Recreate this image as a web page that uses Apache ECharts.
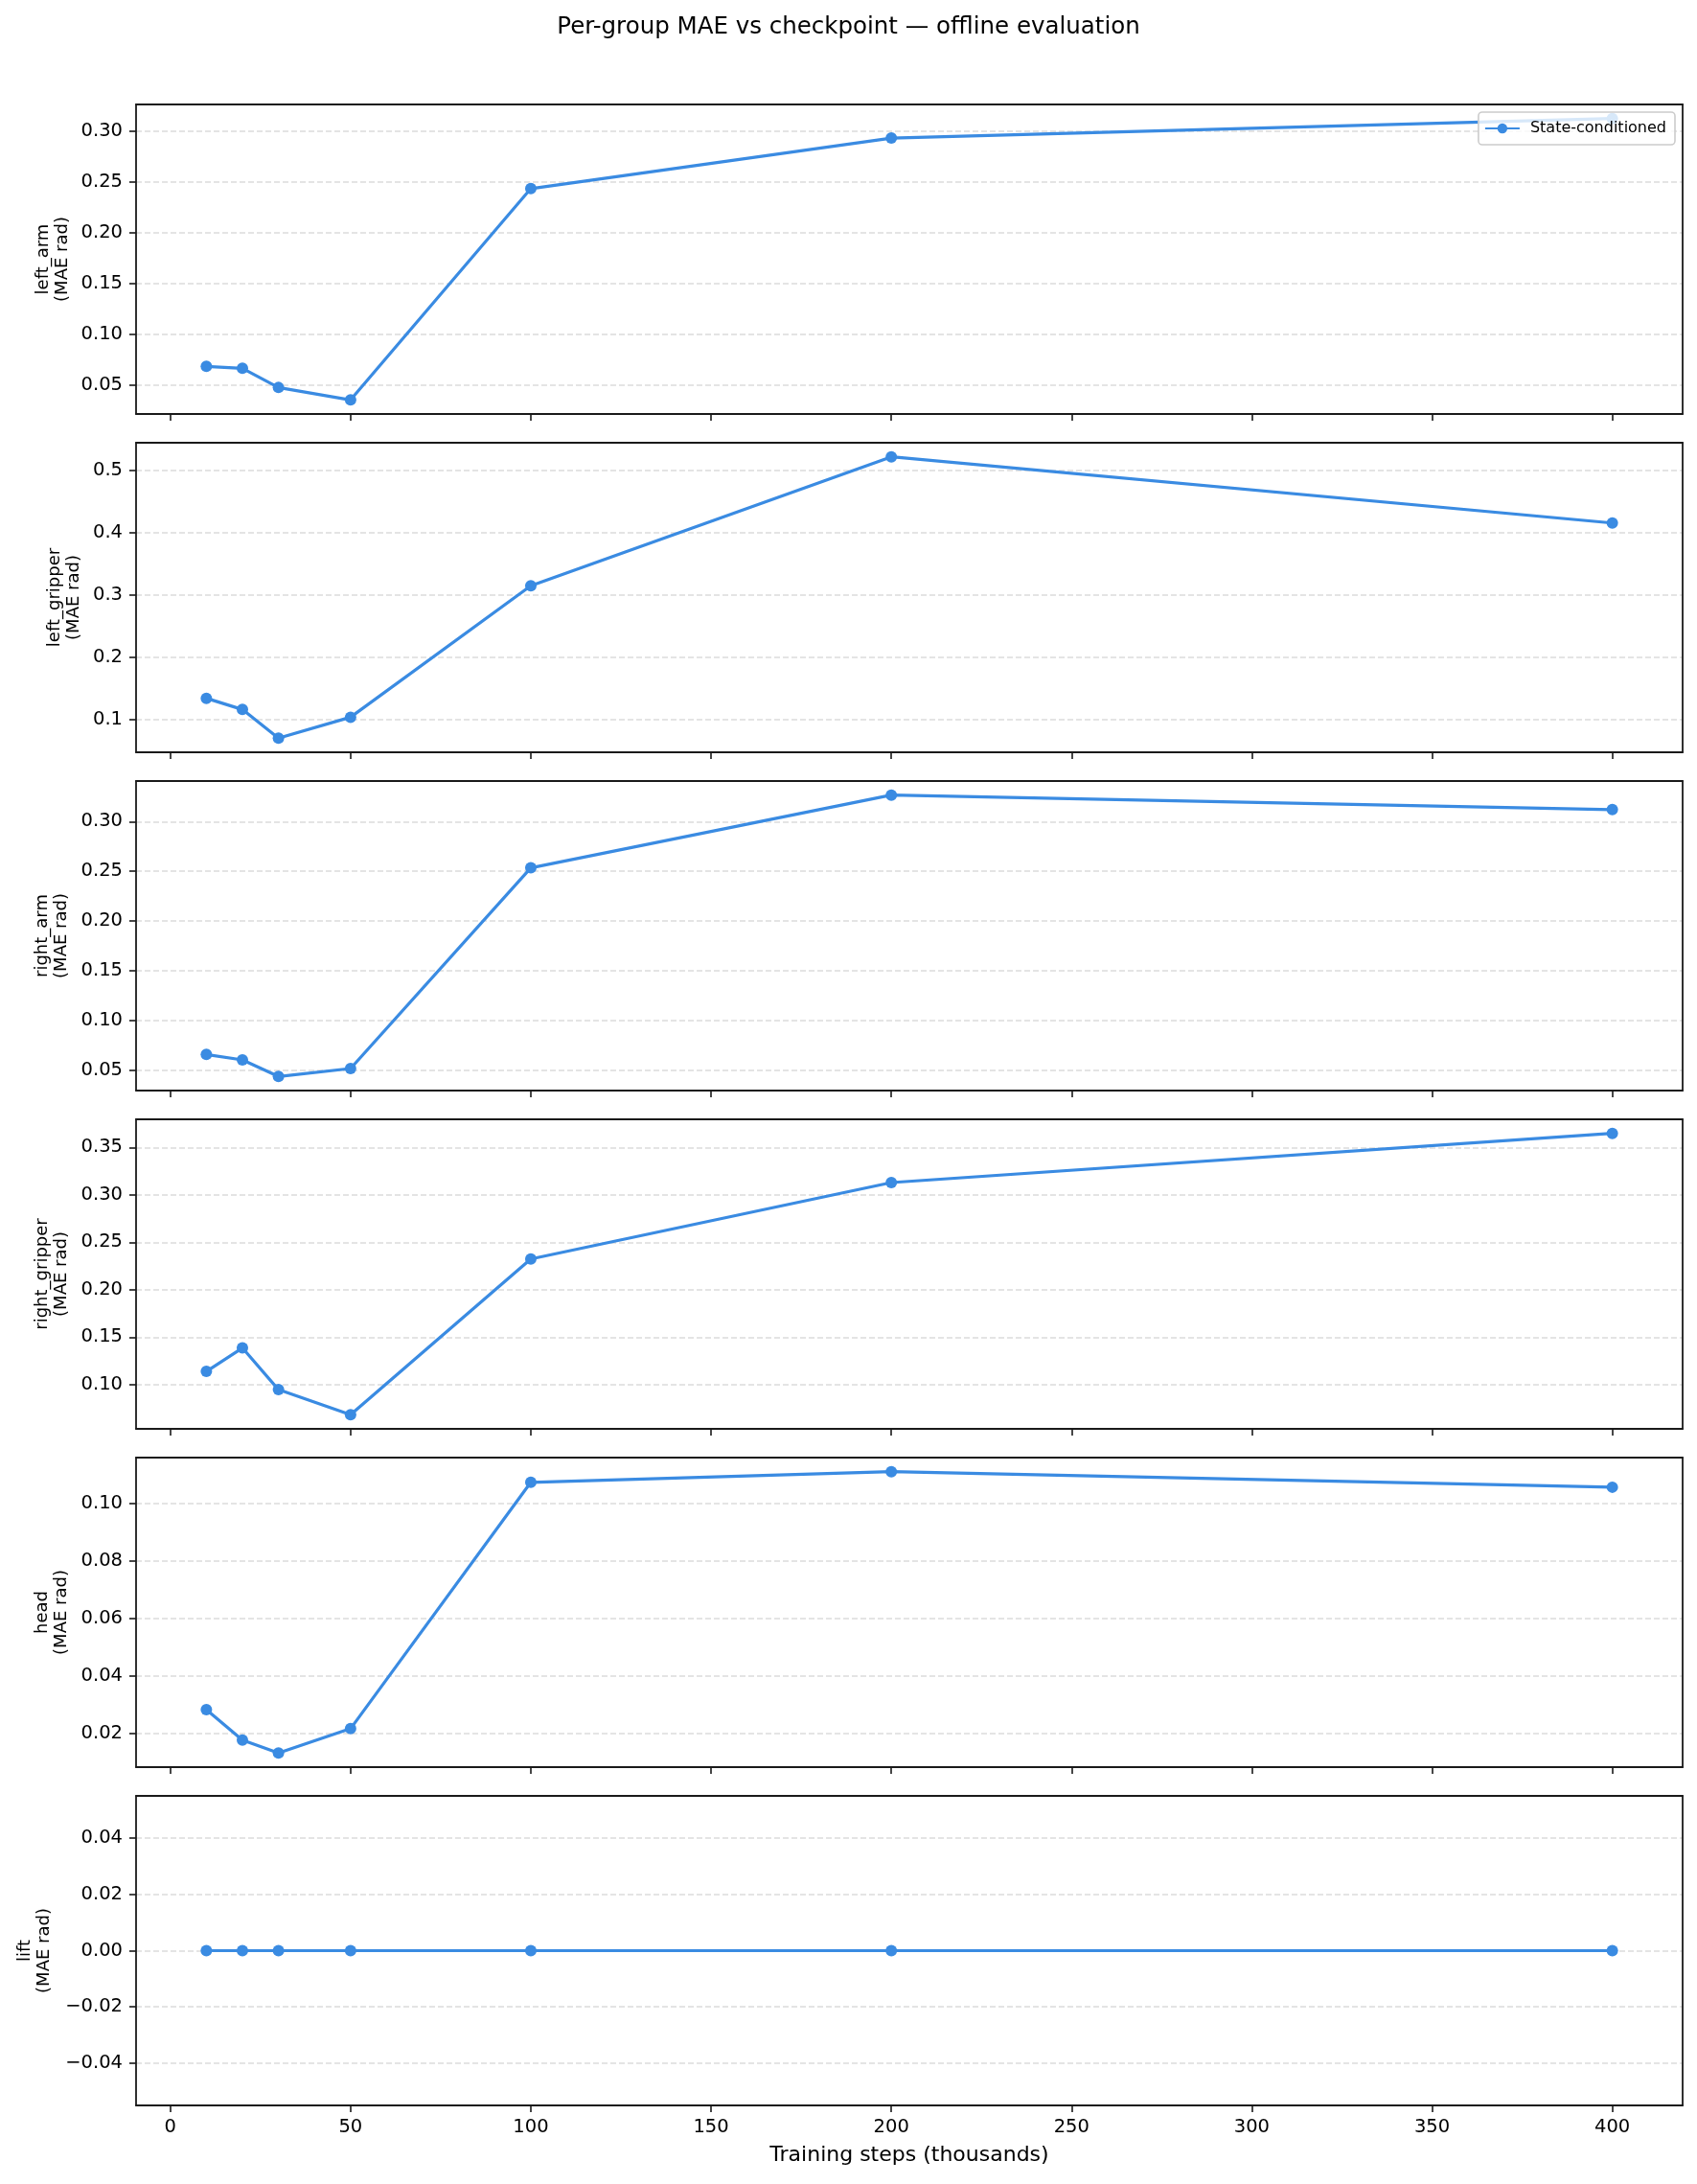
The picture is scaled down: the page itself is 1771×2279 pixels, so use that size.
<!DOCTYPE html>
<html><head><meta charset="utf-8">
<script src="https://cdn.jsdelivr.net/npm/echarts@6/dist/echarts.min.js"></script>
<style>html,body{margin:0;padding:0;background:#fff}#c{width:1771px;height:2279px}</style>
</head><body><div id="c"></div>
<script>
// ---- data ----
const steps = [10, 20, 30, 50, 100, 200, 400];
const groupNames = ['left_arm', 'left_gripper', 'right_arm', 'right_gripper', 'head', 'lift'];
const leftArm = [0.0688, 0.0669, 0.0480, 0.0358, 0.2436, 0.2933, 0.3125];
const leftGripper = [0.1344, 0.1164, 0.0703, 0.1040, 0.3150, 0.5220, 0.4158];
const rightArm = [0.0660, 0.0606, 0.0439, 0.0519, 0.2535, 0.3266, 0.3120];
const rightGripper = [0.1138, 0.1386, 0.0946, 0.0681, 0.2324, 0.3130, 0.3649];
const head = [0.0282, 0.0176, 0.0131, 0.0216, 0.1073, 0.1110, 0.1056];
const lift = [0, 0, 0, 0, 0, 0, 0];
const xTicks = [0, 50, 100, 150, 200, 250, 300, 350, 400];
const yTicksLeftArm = [0.05, 0.10, 0.15, 0.20, 0.25, 0.30];
const yTicksLeftGripper = [0.1, 0.2, 0.3, 0.4, 0.5];
const yTicksRightArm = [0.05, 0.10, 0.15, 0.20, 0.25, 0.30];
const yTicksRightGripper = [0.10, 0.15, 0.20, 0.25, 0.30, 0.35];
const yTicksHead = [0.02, 0.04, 0.06, 0.08, 0.10];
const yTicksLift = [-0.04, -0.02, 0.00, 0.02, 0.04];
const tickDecimals = [2, 1, 2, 2, 2, 2];
const seriesName = 'State-conditioned';
const titleText = 'Per-group MAE vs checkpoint \u2014 offline evaluation';
const xLabel = 'Training steps (thousands)';
const yUnit = '(MAE rad)';

// ---- layout / style ----
const groups = [leftArm, leftGripper, rightArm, rightGripper, head, lift];
const yTicks = [yTicksLeftArm, yTicksLeftGripper, yTicksRightArm, yTicksRightGripper, yTicksHead, yTicksLift];
const FONT = 'DejaVu Sans';
const COLOR = '#3a8be2';
const FRAME = '#1a1a1a';
const gridLeft = 142, gridWidth = 1614, gridTop0 = 109, gridStep = 353, gridHeight = 323;
const nameGaps = [67, 55, 68, 68, 68, 86];

function mplLimits(arr) {
  let lo = Math.min.apply(null, arr), hi = Math.max.apply(null, arr);
  if (lo === hi) { lo -= 0.05; hi += 0.05; }
  const m = (hi - lo) * 0.05;
  return [lo - m, hi + m];
}
const xLim = mplLimits(steps);

const grid = [], xAxis = [], yAxis = [], series = [];
groups.forEach((vals, i) => {
  const isLast = i === groups.length - 1;
  grid.push({ left: gridLeft, width: gridWidth, top: gridTop0 + i * gridStep, height: gridHeight, containLabel: false, outerBoundsMode: 'none' });
  const yLim = mplLimits(vals);
  const dec = tickDecimals[i];
  xAxis.push({
    type: 'value', gridIndex: i, position: 'bottom', min: xLim[0], max: xLim[1],
    axisLine: { show: true, onZero: false, lineStyle: { color: FRAME, width: 1.8 } },
    axisTick: { show: true, customValues: xTicks, length: 7, lineStyle: { color: FRAME, width: 1.6 } },
    axisLabel: { show: isLast, customValues: xTicks, margin: 13, fontSize: 19.5, color: '#000', fontFamily: FONT },
    splitLine: { show: false },
    name: isLast ? xLabel : '', nameLocation: 'middle', nameGap: 41, nameMoveOverlap: false,
    nameTextStyle: { fontSize: 22, color: '#000', fontFamily: FONT }
  });
  xAxis.push({
    type: 'value', gridIndex: i, position: 'top', min: xLim[0], max: xLim[1],
    axisLine: { show: true, onZero: false, lineStyle: { color: FRAME, width: 1.8 } },
    axisTick: { show: false }, axisLabel: { show: false }, splitLine: { show: false }
  });
  yAxis.push({
    type: 'value', gridIndex: i, position: 'left', min: yLim[0], max: yLim[1],
    axisLine: { show: true, onZero: false, lineStyle: { color: FRAME, width: 1.8 } },
    axisTick: { show: true, customValues: yTicks[i], length: 7, lineStyle: { color: FRAME, width: 1.6 } },
    axisLabel: {
      show: true, customValues: yTicks[i], margin: 14, fontSize: 19.5, color: '#000', fontFamily: FONT,
      formatter: v => Number(v).toFixed(dec).replace('-', '\u2212')
    },
    splitLine: { show: true, lineStyle: { color: '#dcdcdc', width: 1.6, type: [6, 3] } },
    name: groupNames[i] + '\n' + yUnit, nameLocation: 'middle', nameGap: nameGaps[i], nameMoveOverlap: false,
    nameTextStyle: { fontSize: 18, color: '#000', fontFamily: FONT, lineHeight: 20, align: 'center' }
  });
  yAxis.push({
    type: 'value', gridIndex: i, position: 'right', min: yLim[0], max: yLim[1],
    axisLine: { show: true, onZero: false, lineStyle: { color: FRAME, width: 1.8 } },
    axisTick: { show: false }, axisLabel: { show: false }, splitLine: { show: false }
  });
  series.push({
    name: seriesName, type: 'line', xAxisIndex: 2 * i, yAxisIndex: 2 * i,
    data: steps.map((s, k) => [s, vals[k]]),
    symbol: 'circle', symbolSize: 12, showSymbol: true,
    lineStyle: { color: COLOR, width: 3.2 }, itemStyle: { color: COLOR },
    emphasis: { disabled: true }, animation: false, z: 3
  });
});

const chart = echarts.init(document.getElementById('c'), null, { renderer: 'canvas' });
chart.setOption({
  backgroundColor: '#ffffff',
  animation: false,
  textStyle: { fontFamily: FONT },
  title: {
    text: titleText, left: 'center', top: 11,
    textStyle: { fontSize: 24.5, fontWeight: 'normal', color: '#000', fontFamily: FONT }
  },
  legend: {
    data: [seriesName], right: 23, top: 117, orient: 'horizontal',
    padding: [9, 9, 9, 6], itemWidth: 36, itemHeight: 13,
    backgroundColor: 'rgba(255,255,255,0.8)', borderColor: '#cccccc', borderWidth: 1.6, borderRadius: 4,
    textStyle: { fontSize: 16, color: '#000', fontFamily: FONT, padding: [0, 0, 0, 6] },
    z: 10
  },
  grid, xAxis, yAxis, series
});
</script></body></html>
